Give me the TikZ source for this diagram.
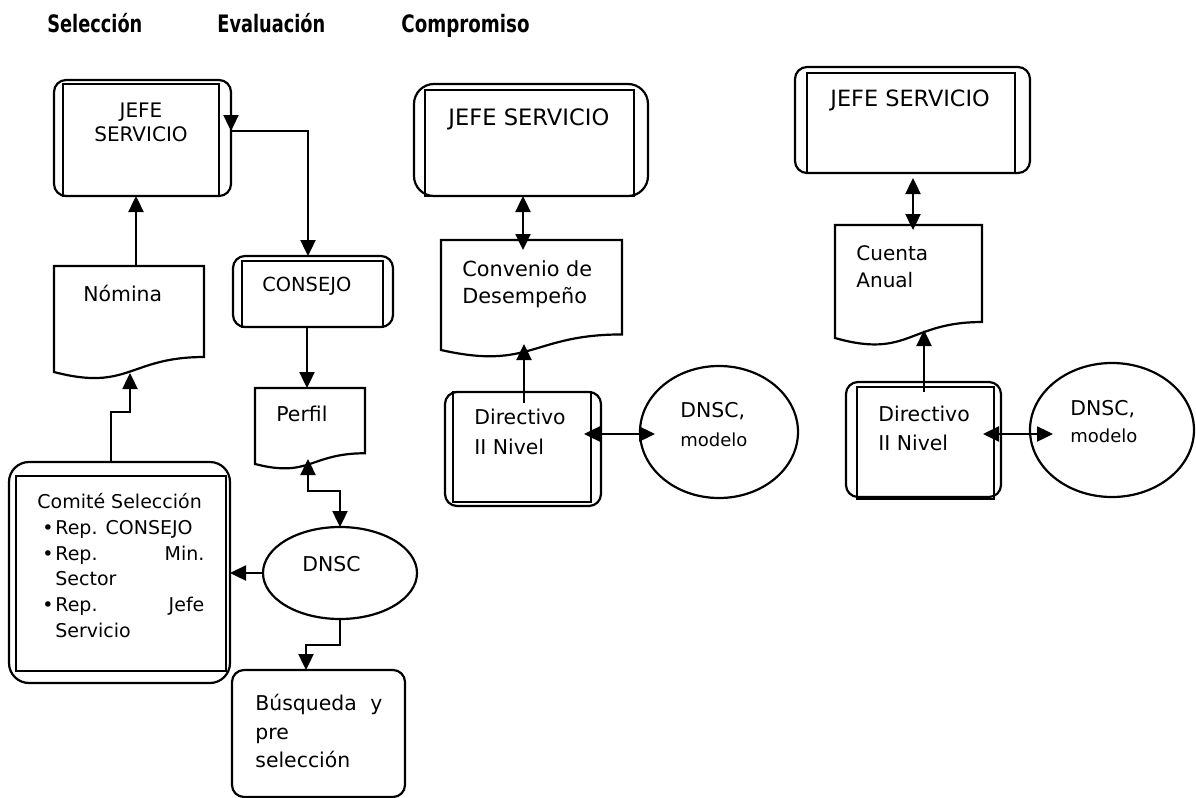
\documentclass[tikz,border=0pt]{standalone}
\usepackage{fontspec}
\usepackage{graphicx}
\setmainfont{DejaVu Sans}
\usetikzlibrary{arrows.meta,shapes.geometric}
\newcommand\rad{6pt}
% document shape: #1 name, #2 L, #3 T, #4 R, #5 bottom-left y
\newcommand\mkdoc[5]{%
  \pgfmathsetmacro\dH{(#5-#3)/0.934}%
  \pgfmathsetmacro\dBR{#3+0.802*\dH}%
  \pgfmathsetmacro\dC{#3+1.1075*\dH}%
  \pgfmathsetmacro\dM{(#2+#4)/2}%
  \pgfmathsetmacro\dW{(#4-#2)*0.5}%
  \pgfmathsetmacro\dHH{(#5-#3)*0.5}%
  \draw[shp] (#2,#3) -- (#4,#3) -- (#4,\dBR) .. controls (\dM,\dBR) and (\dM,\dC) .. (#2,#5) -- cycle;
  \node[frame,anchor=north west,minimum width=\dW pt,minimum height=\dHH pt] (#1) at (#2,#3) {};
}
% double box: #1 name, #2-#5 outer L T R B, #6-#9 inner L T R B
\newcommand\mkdbl[9]{%
  \draw[shp,rounded corners=\rad] (#2,#3) rectangle (#4,#5);
  \draw[shp] (#6,#7) rectangle (#8,#9);
  \pgfmathsetmacro\dW{(#4-#2)*0.5}%
  \pgfmathsetmacro\dHH{(#5-#3)*0.5}%
  \node[frame,anchor=north west,minimum width=\dW pt,minimum height=\dHH pt] (#1) at (#2,#3) {};
}
\begin{document}
\begin{tikzpicture}[x=0.5pt,y=-0.5pt,
  shp/.style={draw=black,line width=1.1pt},
  arr/.style={line width=1.2pt,-{Triangle[length=8pt,width=7.5pt]}},
  darr/.style={line width=1.2pt,{Triangle[length=8pt,width=7.5pt]}-{Triangle[length=8pt,width=7.5pt]}},
  frame/.style={inner sep=0pt,outer sep=0pt},
  txt/.style={inner sep=0pt,anchor=base west,font=\fontsize{10.2pt}{12pt}\selectfont},
  small/.style={inner sep=0pt,anchor=base west,font=\fontsize{9pt}{11pt}\selectfont},
  cmt/.style={inner sep=0pt,anchor=base west,font=\fontsize{9.5pt}{11pt}\selectfont},
  ttl/.style={inner sep=0pt,anchor=base west,font=\fontsize{12pt}{14pt}\bfseries\selectfont}]
\useasboundingbox (0,0) rectangle (1196,798);

% titles
\node[ttl] (t1) at (47,32) {\scalebox{0.74}[1]{Selección}};
\node[ttl] (t2) at (217,32) {\scalebox{0.74}[1]{Evaluación}};
\node[ttl] (t3) at (401,32) {\scalebox{0.76}[1]{Compromiso}};

% --- Selección / Evaluación column ---
\mkdbl{jefe1}{54}{80}{231}{196}{63}{84}{219}{196}
\node[txt,anchor=base,font=\fontsize{10pt}{12pt}\selectfont] (jefe1t) at (141,117) {JEFE};
\node[txt,anchor=base,font=\fontsize{10pt}{12pt}\selectfont] (jefe1u) at (141,141) {SERVICIO};

\mkdbl{consejo}{233}{256}{393}{327}{242}{261}{383}{327}
\node[txt,font=\fontsize{9.7pt}{12pt}\selectfont] (consejot) at (262,291) {CONSEJO};

\mkdoc{nom}{54}{266}{204}{372}
\node[txt] (nomt) at (83,301) {Nómina};

\mkdoc{perfil}{255}{388}{365}{464}
\node[txt] (perfilt) at (276,421) {Perfil};

\renewcommand\rad{10pt}
\mkdbl{comite}{9}{462}{230}{683}{16}{476}{226}{671}
\node[cmt] (c0) at (37,508) {Comité Selección};
\node[cmt] (c1b) at (42,534) {•};
\node[cmt] (c1) at (55,534) {Rep. CONSEJO};
\node[cmt] (c2b) at (42,560) {•};
\node[cmt] (c2) at (55,560) {\makebox[74.5pt][s]{Rep.\hfill Min.}};
\node[cmt] (c3) at (55,585) {Sector};
\node[cmt] (c4b) at (42,611) {•};
\node[cmt] (c4) at (55,611) {\makebox[74.5pt][s]{Rep.\hfill Jefe}};
\node[cmt] (c5) at (55,637) {Servicio};

\node[shp,ellipse,frame,minimum width=77pt,minimum height=46pt] (dnsc1) at (340,573) {};
\node[txt] (dnsc1t) at (302,571) {DNSC};

\draw[shp,rounded corners=6pt] (232,670) rectangle (405,797);
\node[frame,anchor=north west,minimum width=86.5pt,minimum height=63.5pt] (busq) at (232,670) {};
\node[txt] (b1) at (255,710) {\makebox[63.5pt][s]{Búsqueda\hfill y}};
\node[txt] (b2) at (255,739) {pre};
\node[txt] (b3) at (255,767) {selección};

% connectors
\draw[arr] (nom.north -| 136,0) -- (jefe1.south -| 136,0);
\draw[arr] (jefe1.east |- 0,113) -- (jefe1.east |- 0,131);
\draw[arr] (jefe1.east |- 0,131) -| (consejo.north -| 308,0);
\draw[arr] (consejo.south -| 307,0) -- (perfil.north -| 307,0);
\coordinate (perfilb) at (308,459);
\coordinate (perfilk) at (308,491);
\draw[darr] (perfilb) -- (perfilk) -| (dnsc1.north);
\draw[arr] (dnsc1.west) -- (comite.east |- dnsc1.west);
\draw[arr] (dnsc1.south) |- (306,645) -- (busq.north -| 306,0);
\coordinate (nomb) at (130,373);
\coordinate (cmk) at (111,412);
\draw[arr] (comite.north -| 111,0) -- (cmk) -| (nomb);

% --- Compromiso middle ---
\mkdbl{jefe2}{414}{84}{648}{196}{425}{90}{634}{196}
\node[txt,font=\fontsize{11.3pt}{13pt}\selectfont] (jefe2t) at (448,125) {JEFE SERVICIO};

\mkdoc{conv}{441}{240}{622}{350}
\node[txt,font=\fontsize{10.4pt}{12pt}\selectfont] (conv1) at (462,276) {Convenio de};
\node[txt,font=\fontsize{10.4pt}{12pt}\selectfont] (conv2) at (462,303) {Desempeño};

\renewcommand\rad{6pt}
\mkdbl{dir1}{445}{392}{601}{506}{453}{392}{591}{502}
\node[txt] (dir1a) at (474,424) {Directivo};
\node[txt] (dir1b) at (474,454) {II Nivel};

\node[shp,ellipse,frame,minimum width=79pt,minimum height=66pt] (dnsc2) at (719,432) {};
\node[txt] (dnsc2a) at (680,417) {DNSC,};
\node[small] (dnsc2b) at (680,446) {modelo};

\draw[darr] (jefe2.south -| 523,0) -- (conv.north -| 523,0) -- ++(0,10);
\coordinate (convb) at (524,344);
\draw[arr] (dir1.north -| 524,0) ++(0,11) -- (convb);
\coordinate (d1r) at (584,434);
\coordinate (e2l) at (655,434);
\draw[darr] (d1r) -- (e2l);

% --- right group ---
\mkdbl{jefe3}{795}{67}{1030}{173}{807}{73}{1015}{173}
\node[txt,font=\fontsize{11.2pt}{13pt}\selectfont] (jefe3t) at (830,106) {JEFE SERVICIO};

\mkdoc{cuenta}{835}{225}{982}{338}
\node[txt,font=\fontsize{10pt}{12pt}\selectfont] (cu1) at (856,260) {Cuenta};
\node[txt,font=\fontsize{10pt}{12pt}\selectfont] (cu2) at (856,287) {Anual};

\mkdbl{dir2}{846}{382}{1001}{497}{857}{387}{994}{499}
\node[txt] (dir2a) at (878,421) {Directivo};
\node[txt] (dir2b) at (878,450) {II Nivel};

\node[shp,ellipse,frame,minimum width=82pt,minimum height=67pt] (dnsc3) at (1112,430) {};
\node[txt] (dnsc3a) at (1070,415) {DNSC,};
\node[small] (dnsc3b) at (1070,442) {modelo};

\draw[darr] (jefe3.south -| 913,0) ++(0,5) -- (913,230);
\coordinate (cub) at (924,330);
\draw[arr] (dir2.north -| 924,0) ++(0,10) -- (cub);
\coordinate (d2r) at (983,434);
\coordinate (e3l) at (1053,434);
\draw[darr] (d2r) -- (e3l);
\end{tikzpicture}
\end{document}
